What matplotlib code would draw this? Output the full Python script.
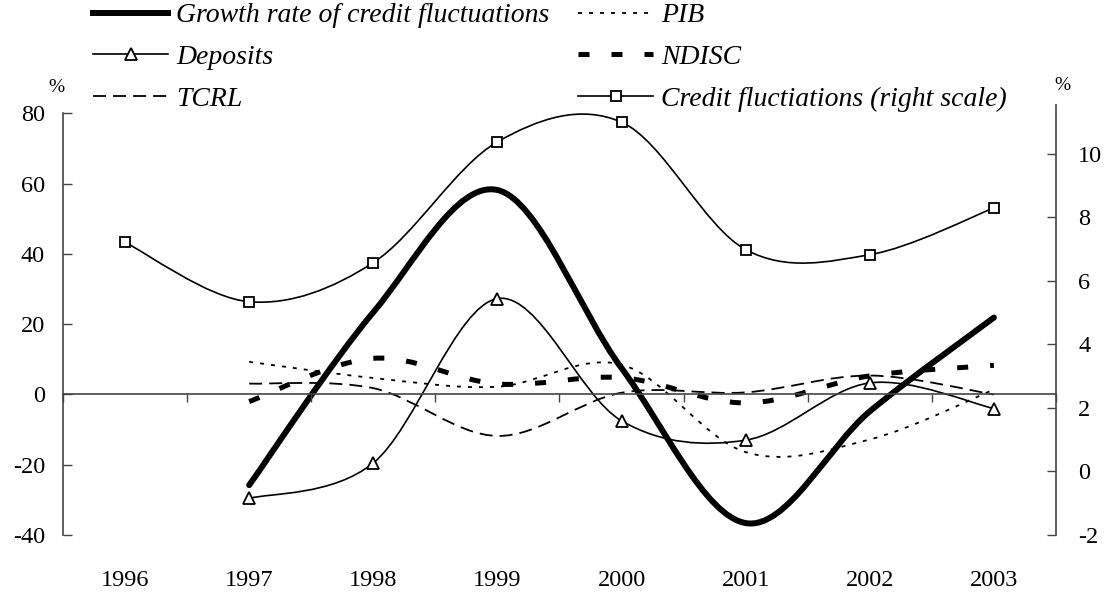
import numpy as np
import matplotlib
matplotlib.use("Agg")
import matplotlib.pyplot as plt
from matplotlib.path import Path
from matplotlib.patches import PathPatch
from matplotlib.lines import Line2D

plt.rcParams['font.family'] = ['Liberation Serif', 'DejaVu Serif']
plt.rcParams['axes.unicode_minus'] = False

years = ['1996', '1997', '1998', '1999', '2000', '2001', '2002', '2003']

# left scale (%), 1997-2003
growth = [-25.8, 23.4, 58.2, 7.5, -36.6, -4.8, 21.9]
deposits = [-29.6, -19.5, 27.3, -7.5, -13.0, 3.3, -4.0]
pib = [9.3, 4.7, 2.2, 8.5, -16.4, -12.8, 1.4]
ndisc = [-2.0, 10.3, 3.0, 4.8, -2.4, 5.3, 8.3]
tcrl = [3.1, 1.8, -11.8, 0.5, 0.6, 5.4, 0.0]

# right scale (%), 1996-2003
credit = [7.21, 5.34, 6.57, 10.37, 10.99, 6.98, 6.82, 8.29]

INK = 'black'
AXC = '#444444'


def smooth_path(x, y):
    """Excel-like smoothed line as cubic bezier segments."""
    pts = list(zip(x, y))
    n = len(pts)
    verts = [pts[0]]
    codes = [Path.MOVETO]
    for i in range(n - 1):
        p0 = pts[i - 1] if i > 0 else pts[i]
        p1, p2 = pts[i], pts[i + 1]
        p3 = pts[i + 2] if i + 2 < n else pts[i + 1]
        c1 = (p1[0] + (p2[0] - p0[0]) / 6, p1[1] + (p2[1] - p0[1]) / 6)
        c2 = (p2[0] - (p3[0] - p1[0]) / 6, p2[1] - (p3[1] - p1[1]) / 6)
        verts += [c1, c2, p2]
        codes += [Path.CURVE4] * 3
    return Path(verts, codes)


def draw_smooth(ax, x, y, **kw):
    patch = PathPatch(smooth_path(x, y), fill=False, edgecolor=INK, **kw)
    ax.add_patch(patch)


fig = plt.figure(figsize=(11.07, 6.0), dpi=100)
ax = fig.add_axes([0.0569, 0.1083, 0.8970, 0.7167])
ax2 = ax.twinx()

x_all = np.arange(len(years))
x_sub = x_all[1:]

ax.set_xlim(-0.5, len(years) - 0.5)
ax.set_ylim(-40, 82.4)
ax2.set_ylim(-2, 11.53)

# left scale series
draw_smooth(ax, x_sub, tcrl, lw=1.3, linestyle=(0, (7.2, 3.9)), capstyle='butt')
draw_smooth(ax, x_sub, pib, lw=1.3, linestyle=(0, (2.2, 3.9)), capstyle='butt')
draw_smooth(ax, x_sub, ndisc, lw=3.6, linestyle=(0, (2.2, 4.4)), capstyle='butt')
draw_smooth(ax, x_sub, deposits, lw=1.2)
ax.plot(x_sub, deposits, ls='none', marker='^', ms=8, mfc='white', mec=INK, mew=1.3, zorder=4)
draw_smooth(ax, x_sub, growth, lw=4.3, capstyle='round')

# right scale series
draw_smooth(ax2, x_all, credit, lw=1.2)
ax2.plot(x_all, credit, ls='none', marker='s', ms=7, mfc='white', mec=INK, mew=1.3, zorder=4)

# axes styling
for s in ['top', 'right']:
    ax.spines[s].set_visible(False)
ax.spines['left'].set_bounds(-40, 80)
ax.spines['bottom'].set_position(('data', 0))
for s in ['left', 'bottom']:
    ax.spines[s].set_color(AXC)
    ax.spines[s].set_linewidth(1.2)
for s in ['top', 'left', 'bottom']:
    ax2.spines[s].set_visible(False)
ax2.spines['right'].set_color(AXC)
ax2.spines['right'].set_linewidth(1.2)

ax.set_yticks([-40, -20, 0, 20, 40, 60, 80])
ax.tick_params(axis='y', direction='in', length=6.5, width=1, colors=AXC,
               labelcolor=INK, labelsize=17.5, pad=13)
ax2.set_yticks([-2, 0, 2, 4, 6, 8, 10])
ax2.tick_params(axis='y', direction='in', length=6.5, width=1, colors=AXC,
                labelcolor=INK, labelsize=17.5, pad=16)

ax.set_xticks(np.arange(-0.5, len(years), 1.0))
ax.set_xticklabels([])
ax.tick_params(axis='x', direction='out', length=6, width=1, colors=AXC)

sec = ax.secondary_xaxis('bottom')
sec.set_xticks(x_all, labels=years)
sec.tick_params(length=0, pad=25, labelsize=17.5)
sec.spines['bottom'].set_visible(False)

fig.text(56 / 1107, 1 - 87 / 600, '%', ha='center', va='center', fontsize=14)
fig.text(1062 / 1107, 1 - 86 / 600, '%', ha='center', va='center', fontsize=14)

handles = [
    Line2D([], [], color=INK, lw=4.3),
    Line2D([], [], color=INK, lw=1.2, marker='^', ms=8, mfc='white', mew=1.3),
    Line2D([], [], color=INK, lw=1.3, ls=(0, (7.2, 3.9))),
    Line2D([], [], color=INK, lw=1.3, ls=(0, (2.2, 3.9))),
    Line2D([], [], color=INK, lw=3.6, ls=(0, (2.2, 4.4))),
    Line2D([], [], color=INK, lw=1.2, marker='s', ms=7, mfc='white', mew=1.3),
]
labels = ['Growth rate of credit fluctuations', 'Deposits', 'TCRL',
          'PIB', 'NDISC', 'Credit fluctiations (right scale)']
fig.legend(handles, labels, ncol=2, loc='upper left', bbox_to_anchor=(93 / 1107, 0.995),
           frameon=False, borderpad=0, borderaxespad=0, handlelength=2.7,
           handletextpad=0.29, columnspacing=1.04, labelspacing=0.58, numpoints=1,
           prop={'style': 'italic', 'size': 20})

fig.savefig('out.png', dpi=100)
